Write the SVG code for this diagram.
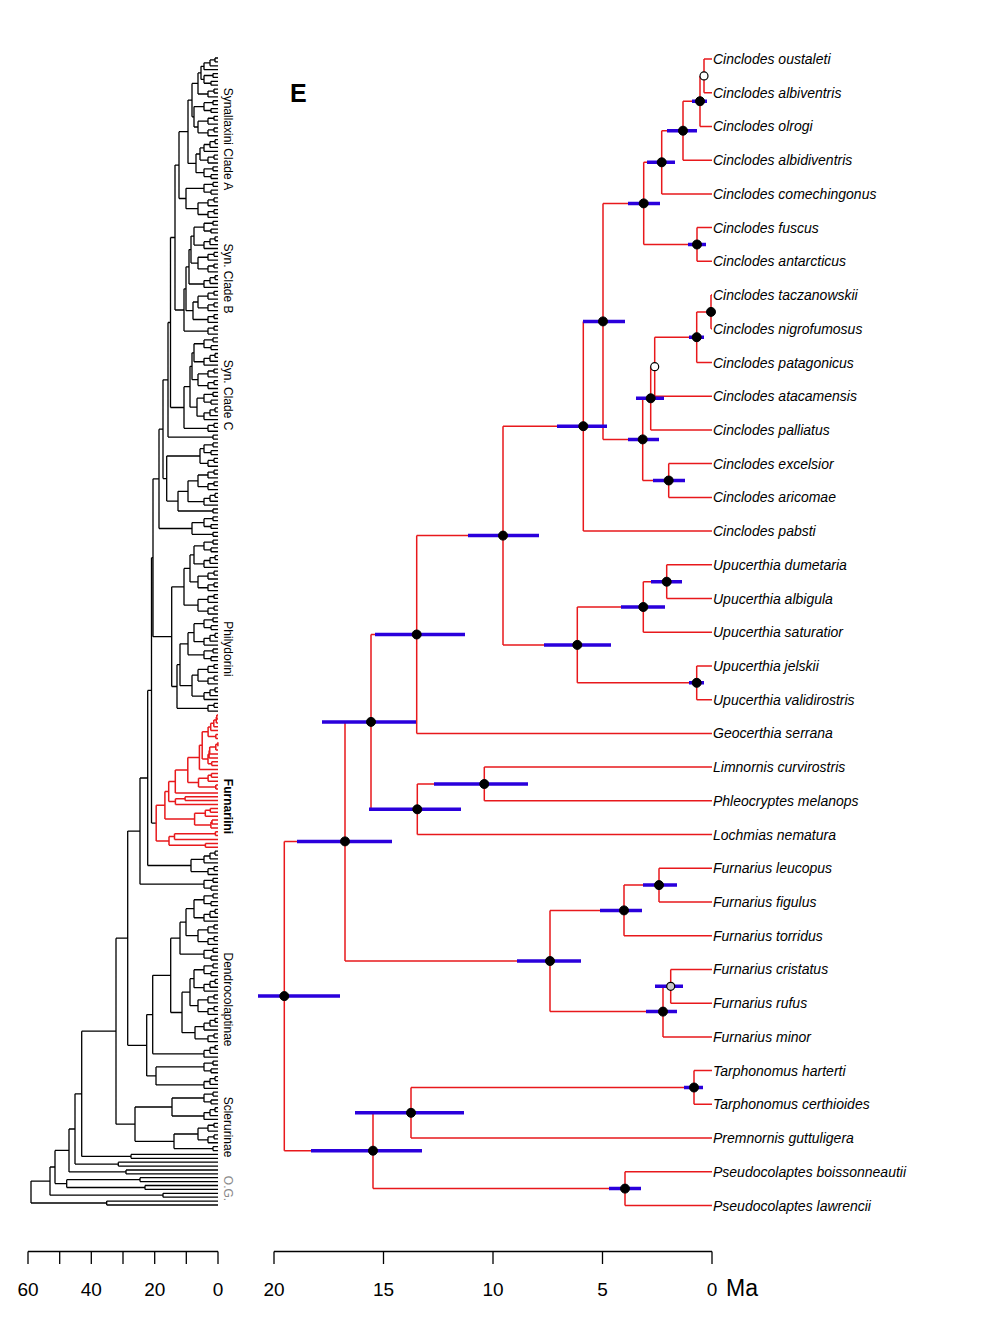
<svg xmlns="http://www.w3.org/2000/svg" width="984" height="1324" viewBox="0 0 984 1324">
<style>
.tip{font-family:"Liberation Sans",Arial,sans-serif;font-size:14px;font-style:italic;fill:#000}
.clab{font-family:"Liberation Sans",Arial,sans-serif;font-size:12px;fill:#000}
.ax{font-family:"Liberation Sans",Arial,sans-serif;font-size:19px;fill:#000}
.red{stroke:#e8191c;stroke-width:1.5;fill:none}
.blk{stroke:#000;stroke-width:1.3;fill:none}
.hpd{stroke:#2a00dc;stroke-width:3.5;fill:none}
.dot{fill:#000;stroke:#000;stroke-width:1}
.wdot{fill:#fff;stroke:#000;stroke-width:1.2}
.gdot{fill:#c8c8c8;stroke:#000;stroke-width:1.2}
</style>
<defs>
<path id="m2" d="M-5 0H0M-5 3.888H0M-5 0V3.888"/>
<path id="m3" d="M-4 0H0M-4 3.888H0M-4 0V3.888M-10 1.944H-4M-10 7.776H0M-10 1.944V7.776"/>
<path id="m4a" d="M-5 0H0M-5 3.888H0M-5 0V3.888M-7 7.776H0M-7 11.664H0M-7 7.776V11.664M-14 1.944H-5M-14 9.72H-7M-14 1.944V9.72"/>
<path id="m4b" d="M-3 0H0M-3 3.888H0M-3 0V3.888M-8 1.944H-3M-8 7.776H0M-8 1.944V7.776M-14 4.86H-8M-14 11.664H0M-14 4.86V11.664"/>
<g id="m6"><use href="#m3"/><use href="#m3" y="11.664"/><path d="M-20 4.86H-10M-20 16.524H-10M-20 4.86V16.524"/></g>
<g id="m8"><use href="#m4a"/><use href="#m4b" y="15.552"/><path d="M-24 5.832H-14M-24 23.814H-14M-24 5.832V23.814"/></g>
</defs>
<rect width="984" height="1324" fill="#fff"/>

<g id="left-tree" class="blk">
<g id="left-tips">
<use href="#m4b" x="218" y="58"/><use href="#m4a" x="218" y="73.55"/><use href="#m3" x="218" y="89.1"/><use href="#m4a" x="218" y="100.77"/><use href="#m6" x="218" y="116.32"/><use href="#m4b" x="218" y="139.65"/><use href="#m3" x="218" y="155.2"/><use href="#m4a" x="218" y="166.86"/><use href="#m4a" x="218" y="182.42"/><use href="#m6" x="218" y="197.97"/>
<use href="#m8" x="218" y="221.3"/><use href="#m6" x="218" y="252.4"/><use href="#m4b" x="218" y="275.73"/><use href="#m6" x="218" y="291.28"/><use href="#m3" x="218" y="314.61"/><use href="#m3" x="218" y="326.27"/>
<use href="#m8" x="218" y="337.94"/><use href="#m6" x="218" y="369.04"/><use href="#m4a" x="218" y="392.37"/><use href="#m4b" x="218" y="407.92"/><use href="#m3" x="218" y="423.47"/>
<use href="#m2" x="218" y="435.14"/><use href="#m4a" x="218" y="442.91"/><use href="#m3" x="218" y="458.46"/><use href="#m6" x="218" y="470.13"/><use href="#m4b" x="218" y="493.46"/><use href="#m2" x="218" y="509.01"/><use href="#m4a" x="218" y="516.78"/><use href="#m2" x="218" y="532.34"/>
<use href="#m8" x="218" y="540.11"/><use href="#m6" x="218" y="571.22"/><use href="#m6" x="218" y="594.54"/><use href="#m8" x="218" y="617.87"/><use href="#m4a" x="218" y="648.98"/><use href="#m6" x="218" y="664.53"/><use href="#m4b" x="218" y="687.86"/><use href="#m3" x="218" y="703.41"/>
<use href="#m4b" x="218" y="851.15"/><use href="#m3" x="218" y="866.7"/><use href="#m4a" x="218" y="878.37"/>
<use href="#m8" x="218" y="893.92"/><use href="#m6" x="218" y="925.02"/><use href="#m4a" x="218" y="948.35"/><use href="#m8" x="218" y="963.9"/><use href="#m6" x="218" y="995.01"/><use href="#m4b" x="218" y="1018.34"/><use href="#m3" x="218" y="1033.89"/><use href="#m4b" x="218" y="1045.55"/>
<use href="#m4a" x="218" y="1061.1"/><use href="#m4b" x="218" y="1076.66"/>
<use href="#m4a" x="218" y="1092.21"/><use href="#m4b" x="218" y="1107.76"/><use href="#m6" x="218" y="1123.31"/><use href="#m2" x="218" y="1146.64"/>
</g>
<path id="left-backbone" d="M201 66.3V79.4M201 66.3H204M201 79.4H204M198 72.9V94M198 72.9H201M198 94H208M194 106.6V127M194 106.6H204M194 127H198M192 83.4V116.8M192 83.4H198M192 116.8H194M200 147.9V160.1M200 147.9H204M200 160.1H208M196 154V172.7M196 154H200M196 172.7H204M188 100.1V163.4M188 100.1H192M188 163.4H196M186 188.3V208.7M186 188.3H204M186 208.7H198M179 131.7V198.5M179 131.7H188M179 198.5H186
M191 236.1V263.1M191 236.1H194M191 263.1H198M189 249.6V284M189 249.6H191M189 284H204M193 302V319.5M193 302H198M193 319.5H208M186 266.8V310.7M186 266.8H189M186 310.7H193M184 288.8V331.1M184 288.8H186M184 331.1H208
M175 165.1V310M175 165.1H179M175 310H184
M192 352.8V379.7M192 352.8H194M192 379.7H198M197 398.2V416.2M197 398.2H204M197 416.2H204M190 366.3V407.2M190 366.3H192M190 407.2H197M184 386.7V428.3M184 386.7H190M184 428.3H208
M170.5 237.5V407.5M170.5 237.5H175M170.5 407.5H184
M200 448.7V463.3M200 448.7H204M200 463.3H208M188 480.8V501.7M188 480.8H198M188 501.7H204M178 491.3V511M178 491.3H188M178 511H213M166.7 456V501.1M166.7 456H200M166.7 501.1H178M192 522.6V534.3M192 522.6H204M192 534.3H213
M168 322.5V437.1M168 322.5H170.5M168 437.1H213M163 379.8V478.6M163 379.8H168M163 478.6H166.7M159 429.2V528.5M159 429.2H163M159 528.5H192
M190 554.9V581.9M190 554.9H194M190 581.9H198M184 568.4V605.2M184 568.4H190M184 605.2H198M188 632.7V654.8M188 632.7H194M188 654.8H204M192 675.2V696.1M192 675.2H198M192 696.1H204M180 643.8V685.7M180 643.8H188M180 685.7H192M177 664.7V708.3M177 664.7H180M177 708.3H208M171.7 586.8V686.5M171.7 586.8H184M171.7 686.5H177
M153 478.8V636.7M153 478.8H159M153 636.7H171.7M151.5 557.7V823.1M151.5 557.7H153M151.5 823.1H156.2
M191 859.4V871.6M191 859.4H204M191 871.6H208M147.7 690.4V865.5M147.7 690.4H151.5M147.7 865.5H191M140 778V884.2M140 778H147.7M140 884.2H204
M186 908.7V935.7M186 908.7H194M186 935.7H198M180 922.2V954.2M180 922.2H186M180 954.2H204M190 978.7V1005.7M190 978.7H194M190 1005.7H198M195 1026.6V1038.8M195 1026.6H204M195 1038.8H208M182 992.2V1032.7M182 992.2H190M182 1032.7H195M170.7 938.2V1012.5M170.7 938.2H180M170.7 1012.5H182M152.7 975.3V1053.8M152.7 975.3H170.7M152.7 1053.8H204
M156 1066.9V1084.9M156 1066.9H204M156 1084.9H204M146.7 1014.6V1075.9M146.7 1014.6H152.7M146.7 1075.9H156M127.7 831.1V1045.3M127.7 831.1H140M127.7 1045.3H146.7
M172 1098V1116M172 1098H204M172 1116H204M174 1134V1148.6M174 1134H198M174 1148.6H213M135 1107V1141.3M135 1107H172M135 1141.3H174M116 938.2V1124.2M116 938.2H127.7M116 1124.2H135
M131 1154.4V1158.3M131 1154.4H218M131 1158.3H218M81.7 1031.2V1156.4M81.7 1031.2H116M81.7 1156.4H131M118.3 1162.2V1166.1M118.3 1162.2H218M118.3 1166.1H218M75 1093.8V1164.1M75 1093.8H81.7M75 1164.1H118.3M126 1170V1173.9M126 1170H218M126 1173.9H218M69 1129V1171.9M69 1129H75M69 1171.9H126M140 1177.7V1181.6M140 1177.7H218M140 1181.6H218M145 1185.5V1189.4M145 1185.5H218M145 1189.4H218M66.7 1179.7V1187.5M66.7 1179.7H140M66.7 1187.5H145M55 1150.4V1183.6M55 1150.4H69M55 1183.6H66.7M163 1193.3V1197.2M163 1193.3H218M163 1197.2H218M50 1167V1195.2M50 1167H55M50 1195.2H163M106.7 1201.1V1205M106.7 1201.1H218M106.7 1205H218M31 1181.1V1203M31 1181.1H50M31 1203H106.7"/>
</g>

<g id="left-furnariini" class="red">
<path d="M216.8 715.1V719M216.8 715.1H218M216.8 719H218M216.3 717V722.9M216.3 717H216.8M216.3 722.9H218M213.8 719.9V726.7M213.8 719.9H216.3M213.8 726.7H218M210.7 723.3V730.6M210.7 723.3H213.8M210.7 730.6H218M215.8 734.5V738.4M215.8 734.5H218M215.8 738.4H218M208.1 727V736.5M208.1 727H210.7M208.1 736.5H215.8
M217.9 742.3V746.2M217.9 742.3H218M217.9 746.2H218M215.8 744.2V750.1M215.8 744.2H217.9M215.8 750.1H218M209.7 747.1V754M209.7 747.1H215.8M209.7 754H218M209.1 750.5V757.9M209.1 750.5H209.7M209.1 757.9H218M211.7 761.8V765.6M211.7 761.8H218M211.7 765.6H218M208 754.2V763.7M208 754.2H209.1M208 763.7H211.7
M202.2 731.7V758.9M202.2 731.7H208.1M202.2 758.9H208M199.4 745.3V769.5M199.4 745.3H202.2M199.4 769.5H218
M211.4 773.4V777.3M211.4 773.4H218M211.4 777.3H218M208.1 775.3V781.2M208.1 775.3H211.4M208.1 781.2H218M215.8 785.1V789M215.8 785.1H218M215.8 789H218M198.5 778.3V787M198.5 778.3H208.1M198.5 787H215.8
M187.8 757.4V782.6M187.8 757.4H199.4M187.8 782.6H198.5M175.3 770V792.9M175.3 770H187.8M175.3 792.9H218
M185.1 796.7V800.6M185.1 796.7H218M185.1 800.6H218M175.4 798.7V804.5M175.4 798.7H185.1M175.4 804.5H218M168.7 781.4V801.6M168.7 781.4H175.3M168.7 801.6H175.4
M210.3 808.4V812.3M210.3 808.4H218M210.3 812.3H218M205.3 810.3V816.2M205.3 810.3H210.3M205.3 816.2H218M212 820.1V824M212 820.1H218M212 824H218M210.9 822V827.9M210.9 822H212M210.9 827.9H218M194.6 813.2V824.9M194.6 813.2H205.3M194.6 824.9H210.9
M164.9 791.5V819.1M164.9 791.5H168.7M164.9 819.1H194.6
M215.4 831.7V835.6M215.4 831.7H218M215.4 835.6H218M174.5 833.7V839.5M174.5 833.7H215.4M174.5 839.5H218M205.4 843.4V847.3M205.4 843.4H218M205.4 847.3H218M169 836.6V845.3M169 836.6H174.5M169 845.3H205.4
M156.2 805.3V840.9M156.2 805.3H164.9M156.2 840.9H169"/>
</g>

<g id="left-labels">
<text class="clab" transform="translate(224,139) rotate(90)" text-anchor="middle">Synallaxini Clade A</text>
<text class="clab" transform="translate(224,278.5) rotate(90)" text-anchor="middle">Syn. Clade B</text>
<text class="clab" transform="translate(224,395) rotate(90)" text-anchor="middle">Syn. Clade C</text>
<text class="clab" transform="translate(224,649) rotate(90)" text-anchor="middle">Philydorini</text>
<text class="clab" transform="translate(224,806.5) rotate(90)" text-anchor="middle" font-weight="bold">Furnariini</text>
<text class="clab" transform="translate(224,999.5) rotate(90)" text-anchor="middle">Dendrocolaptinae</text>
<text class="clab" transform="translate(224,1127) rotate(90)" text-anchor="middle">Sclerurinae</text>
<text class="clab" transform="translate(224,1188.5) rotate(90)" text-anchor="middle" fill="#8a8a8a" style="fill:#8a8a8a">O.G.</text>
</g>

<text id="panel-label" x="290" y="101.5" font-family="Liberation Sans, Arial, sans-serif" font-size="25" font-weight="bold">E</text>

<g id="connectors" class="red">
<path d="M704 59V92.7M704 59H712M704 92.7H712M700 75.9V126.4M700 75.9H704M700 126.4H712M683 101.2V160.2M683 101.2H700M683 160.2H712M661.7 130.7V193.9M661.7 130.7H683M661.7 193.9H712M697 227.6V261.3M697 227.6H712M697 261.3H712M643.7 162.3V244.5M643.7 162.3H661.7M643.7 244.5H697
M711 295V328.8M711 295H712M711 328.8H712M696.7 311.9V362.5M696.7 311.9H711M696.7 362.5H712M654.7 337.2V396.2M654.7 337.2H696.7M654.7 396.2H712M650.7 366.7V429.9M650.7 366.7H654.7M650.7 429.9H712M668.7 463.6V497.4M668.7 463.6H712M668.7 497.4H712M642.7 398.3V480.5M642.7 398.3H650.7M642.7 480.5H668.7
M603 203.4V439.4M603 203.4H643.7M603 439.4H642.7M583.3 321.4V531.1M583.3 321.4H603M583.3 531.1H712
M666.7 564.8V598.5M666.7 564.8H712M666.7 598.5H712M643.3 581.7V632.2M643.3 581.7H666.7M643.3 632.2H712M696.7 666V699.7M696.7 666H712M696.7 699.7H712M577.3 607V682.8M577.3 607H643.3M577.3 682.8H696.7
M503 426.2V644.9M503 426.2H583.3M503 644.9H577.3M416.7 535.6V733.4M416.7 535.6H503M416.7 733.4H712
M484.3 767.1V800.8M484.3 767.1H712M484.3 800.8H712M417.3 784V834.6M417.3 784H484.3M417.3 834.6H712M371 634.5V809.3M371 634.5H416.7M371 809.3H417.3
M659 868.3V902M659 868.3H712M659 902H712M624 885.1V935.7M624 885.1H659M624 935.7H712M670.7 969.4V1003.2M670.7 969.4H712M670.7 1003.2H712M663 986.3V1036.9M663 986.3H670.7M663 1036.9H712M550 910.4V1011.6M550 910.4H624M550 1011.6H663
M345 721.9V961M345 721.9H371M345 961H550
M694 1070.6V1104.3M694 1070.6H712M694 1104.3H712M411 1087.5V1138M411 1087.5H694M411 1138H712M625 1171.8V1205.5M625 1171.8H712M625 1205.5H712M373 1112.8V1188.6M373 1112.8H411M373 1188.6H625
M284.3 841.4V1150.7M284.3 841.4H345M284.3 1150.7H373"/>
</g>

<g id="hpd-bars" class="hpd">
<path d="M692 101.2H707M667 130.7H697M647 162.3H675M688 244.5H706M628 203.4H660M689 337.2H704M636 398.3H664M653 480.5H685M628 439.4H659M583 321.4H625M557 426.2H607M651 581.7H682M621 607H665M689 682.8H704M544 644.9H611M468 535.6H539M375 634.5H465M434 784H528M369 809.3H461M322 721.9H416M643 885.1H677M600 910.4H642M655 986.3H683M646 1011.6H677M517 961H581M297 841.4H392M684 1087.5H703M355 1112.8H464M609 1188.6H641M311 1150.7H422M258 996.1H340"/>
</g>

<g id="nodes">
<circle id="n-oustaleti-albiventris" class="wdot" cx="704" cy="75.9" r="4"/>
<circle id="n-olrogi" class="dot" cx="700" cy="101.2" r="4.5"/>
<circle id="n-albidiventris" class="dot" cx="683" cy="130.7" r="4.5"/>
<circle id="n-comechingonus" class="dot" cx="661.7" cy="162.3" r="4.5"/>
<circle id="n-fuscus-antarcticus" class="dot" cx="697" cy="244.5" r="4.5"/>
<circle id="n-cinclodes-a" class="dot" cx="643.7" cy="203.4" r="4.5"/>
<circle id="n-taczanowskii-nigrofumosus" class="dot" cx="711" cy="311.9" r="4.5"/>
<circle id="n-patagonicus" class="dot" cx="696.7" cy="337.2" r="4.5"/>
<circle id="n-atacamensis" class="wdot" cx="654.7" cy="366.7" r="4"/>
<circle id="n-palliatus" class="dot" cx="650.7" cy="398.3" r="4.5"/>
<circle id="n-excelsior-aricomae" class="dot" cx="668.7" cy="480.5" r="4.5"/>
<circle id="n-cinclodes-b" class="dot" cx="642.7" cy="439.4" r="4.5"/>
<circle id="n-cinclodes-ab" class="dot" cx="603" cy="321.4" r="4.5"/>
<circle id="n-cinclodes" class="dot" cx="583.3" cy="426.2" r="4.5"/>
<circle id="n-dumetaria-albigula" class="dot" cx="666.7" cy="581.7" r="4.5"/>
<circle id="n-saturatior" class="dot" cx="643.3" cy="607" r="4.5"/>
<circle id="n-jelskii-validirostris" class="dot" cx="696.7" cy="682.8" r="4.5"/>
<circle id="n-upucerthia" class="dot" cx="577.3" cy="644.9" r="4.5"/>
<circle id="n-cinclodes-upucerthia" class="dot" cx="503" cy="535.6" r="4.5"/>
<circle id="n-geocerthia" class="dot" cx="416.7" cy="634.5" r="4.5"/>
<circle id="n-limnornis-phleocryptes" class="dot" cx="484.3" cy="784" r="4.5"/>
<circle id="n-lochmias" class="dot" cx="417.3" cy="809.3" r="4.5"/>
<circle id="n-upper" class="dot" cx="371" cy="721.9" r="4.5"/>
<circle id="n-leucopus-figulus" class="dot" cx="659" cy="885.1" r="4.5"/>
<circle id="n-torridus" class="dot" cx="624" cy="910.4" r="4.5"/>
<circle id="n-cristatus-rufus" class="gdot" cx="670.7" cy="986.3" r="4"/>
<circle id="n-minor" class="dot" cx="663" cy="1011.6" r="4.5"/>
<circle id="n-furnarius" class="dot" cx="550" cy="961" r="4.5"/>
<circle id="n-furnariina" class="dot" cx="345" cy="841.4" r="4.5"/>
<circle id="n-tarphonomus" class="dot" cx="694" cy="1087.5" r="4.5"/>
<circle id="n-premnornis" class="dot" cx="411" cy="1112.8" r="4.5"/>
<circle id="n-pseudocolaptes" class="dot" cx="625" cy="1188.6" r="4.5"/>
<circle id="n-tarph-pseudo" class="dot" cx="373" cy="1150.7" r="4.5"/>
<circle id="n-root" class="dot" cx="284.3" cy="996.1" r="4.5"/>
</g>

<g id="tips">
<text class="tip" x="713" y="64">Cinclodes oustaleti</text>
<text class="tip" x="713" y="97.7">Cinclodes albiventris</text>
<text class="tip" x="713" y="131.4">Cinclodes olrogi</text>
<text class="tip" x="713" y="165.2">Cinclodes albidiventris</text>
<text class="tip" x="713" y="198.9">Cinclodes comechingonus</text>
<text class="tip" x="713" y="232.6">Cinclodes fuscus</text>
<text class="tip" x="713" y="266.3">Cinclodes antarcticus</text>
<text class="tip" x="713" y="300">Cinclodes taczanowskii</text>
<text class="tip" x="713" y="333.8">Cinclodes nigrofumosus</text>
<text class="tip" x="713" y="367.5">Cinclodes patagonicus</text>
<text class="tip" x="713" y="401.2">Cinclodes atacamensis</text>
<text class="tip" x="713" y="434.9">Cinclodes palliatus</text>
<text class="tip" x="713" y="468.6">Cinclodes excelsior</text>
<text class="tip" x="713" y="502.4">Cinclodes aricomae</text>
<text class="tip" x="713" y="536.1">Cinclodes pabsti</text>
<text class="tip" x="713" y="569.8">Upucerthia dumetaria</text>
<text class="tip" x="713" y="603.5">Upucerthia albigula</text>
<text class="tip" x="713" y="637.2">Upucerthia saturatior</text>
<text class="tip" x="713" y="671">Upucerthia jelskii</text>
<text class="tip" x="713" y="704.7">Upucerthia validirostris</text>
<text class="tip" x="713" y="738.4">Geocerthia serrana</text>
<text class="tip" x="713" y="772.1">Limnornis curvirostris</text>
<text class="tip" x="713" y="805.8">Phleocryptes melanops</text>
<text class="tip" x="713" y="839.6">Lochmias nematura</text>
<text class="tip" x="713" y="873.3">Furnarius leucopus</text>
<text class="tip" x="713" y="907">Furnarius figulus</text>
<text class="tip" x="713" y="940.7">Furnarius torridus</text>
<text class="tip" x="713" y="974.4">Furnarius cristatus</text>
<text class="tip" x="713" y="1008.2">Furnarius rufus</text>
<text class="tip" x="713" y="1041.9">Furnarius minor</text>
<text class="tip" x="713" y="1075.6">Tarphonomus harterti</text>
<text class="tip" x="713" y="1109.3">Tarphonomus certhioides</text>
<text class="tip" x="713" y="1143">Premnornis guttuligera</text>
<text class="tip" x="713" y="1176.8">Pseudocolaptes boissonneautii</text>
<text class="tip" x="713" y="1210.5">Pseudocolaptes lawrencii</text>
</g>

<g id="axes" stroke="#000" stroke-width="1.3" fill="none">
<path d="M28 1251.5H218M28 1251.5V1264M59.7 1251.5V1264M91.3 1251.5V1264M123 1251.5V1264M154.7 1251.5V1264M186.3 1251.5V1264M218 1251.5V1264"/>
<path d="M274 1251.5H712M274 1251.5V1264M383.5 1251.5V1264M493 1251.5V1264M602.5 1251.5V1264M712 1251.5V1264"/>
</g>
<g id="axis-labels" text-anchor="middle">
<text class="ax" x="28" y="1296">60</text>
<text class="ax" x="91.3" y="1296">40</text>
<text class="ax" x="154.7" y="1296">20</text>
<text class="ax" x="218" y="1296">0</text>
<text class="ax" x="274" y="1296">20</text>
<text class="ax" x="383.5" y="1296">15</text>
<text class="ax" x="493" y="1296">10</text>
<text class="ax" x="602.5" y="1296">5</text>
<text class="ax" x="712" y="1296">0</text>
<text x="726" y="1296" text-anchor="start" font-family="Liberation Sans, Arial, sans-serif" font-size="23">Ma</text>
</g>
</svg>
